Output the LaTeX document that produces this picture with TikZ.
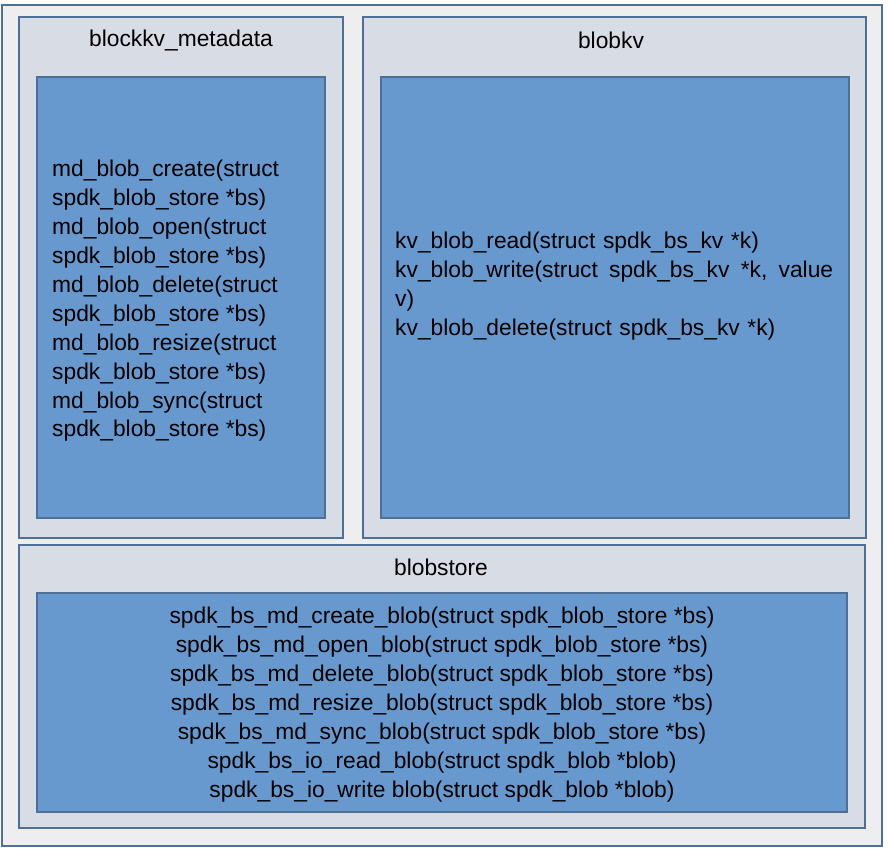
\documentclass[tikz,border=0pt]{standalone}
\usepackage{fontspec}
\setmainfont{Liberation Sans}
\definecolor{frameline}{HTML}{4E6F96}
\definecolor{framefill}{HTML}{EEEEEE}
\definecolor{panelfill}{HTML}{D8DCE4}
\definecolor{apifill}{HTML}{6799CE}
\begin{document}
\begin{tikzpicture}[x=1pt,y=-1pt,
  box/.style={draw=frameline, line width=2pt, rectangle, inner sep=0pt, outer sep=0pt},
  frame/.style={box, fill=framefill},
  panel/.style={box, fill=panelfill},
  api/.style={box, fill=apifill},
  title/.style={font=\fontsize{22.8}{29}\selectfont, inner sep=0pt},
  calls/.style={font=\fontsize{22.8}{28.9}\selectfont, inner sep=0pt}]
\useasboundingbox (0,0) rectangle (888,852);

% outer frame
\node[frame, minimum width=880pt, minimum height=841pt] (frame) at (442,425.5) {};

% three layers
\node[panel, minimum width=324pt, minimum height=521pt] (meta) at (181,277.5) {};
\node[panel, minimum width=503pt, minimum height=521pt] (kv) at (614.5,277.5) {};
\node[panel, minimum width=846pt, minimum height=283pt] (store) at (442,686.5) {};

% API areas inside each layer
\node[api, minimum width=288pt, minimum height=441pt] (metaapi) at (181,297.5) {};
\node[api, minimum width=468pt, minimum height=441pt] (kvapi) at (615,297.5) {};
\node[api, minimum width=810pt, minimum height=219pt] (storeapi) at (442,702.5) {};

% layer names
\node[title] (metatitle) at (181,40.5) {blockkv\_metadata};
\node[title] (kvtitle) at (611,40.5) {blobkv};
\node[title] (storetitle) at (441,567.5) {blobstore};

% function lists
\node[calls, anchor=west, align=left] (metacalls) at (52,301) {%
md\_blob\_create(struct\\
spdk\_blob\_store *bs)\\
md\_blob\_open(struct\\
spdk\_blob\_store *bs)\\
md\_blob\_delete(struct\\
spdk\_blob\_store *bs)\\
md\_blob\_resize(struct\\
spdk\_blob\_store *bs)\\
md\_blob\_sync(struct\\
spdk\_blob\_store *bs)};

\node[calls, anchor=west, align=left, text width=438pt] (kvcalls) at (395,286) {%
kv\_blob\_read(struct spdk\_bs\_kv *k)\\
\leavevmode\hbox to 438pt{kv\_blob\_write(struct\hfill spdk\_bs\_kv\hfill *k,\hfill value}\\
v)\\
kv\_blob\_delete(struct spdk\_bs\_kv *k)};

\node[calls, align=center] (storecalls) at (442,704.5) {%
spdk\_bs\_md\_create\_blob(struct spdk\_blob\_store *bs)\\
spdk\_bs\_md\_open\_blob(struct spdk\_blob\_store *bs)\\
spdk\_bs\_md\_delete\_blob(struct spdk\_blob\_store *bs)\\
spdk\_bs\_md\_resize\_blob(struct spdk\_blob\_store *bs)\\
spdk\_bs\_md\_sync\_blob(struct spdk\_blob\_store *bs)\\
spdk\_bs\_io\_read\_blob(struct spdk\_blob *blob)\\
spdk\_bs\_io\_write blob(struct spdk\_blob *blob)};
\end{tikzpicture}
\end{document}
